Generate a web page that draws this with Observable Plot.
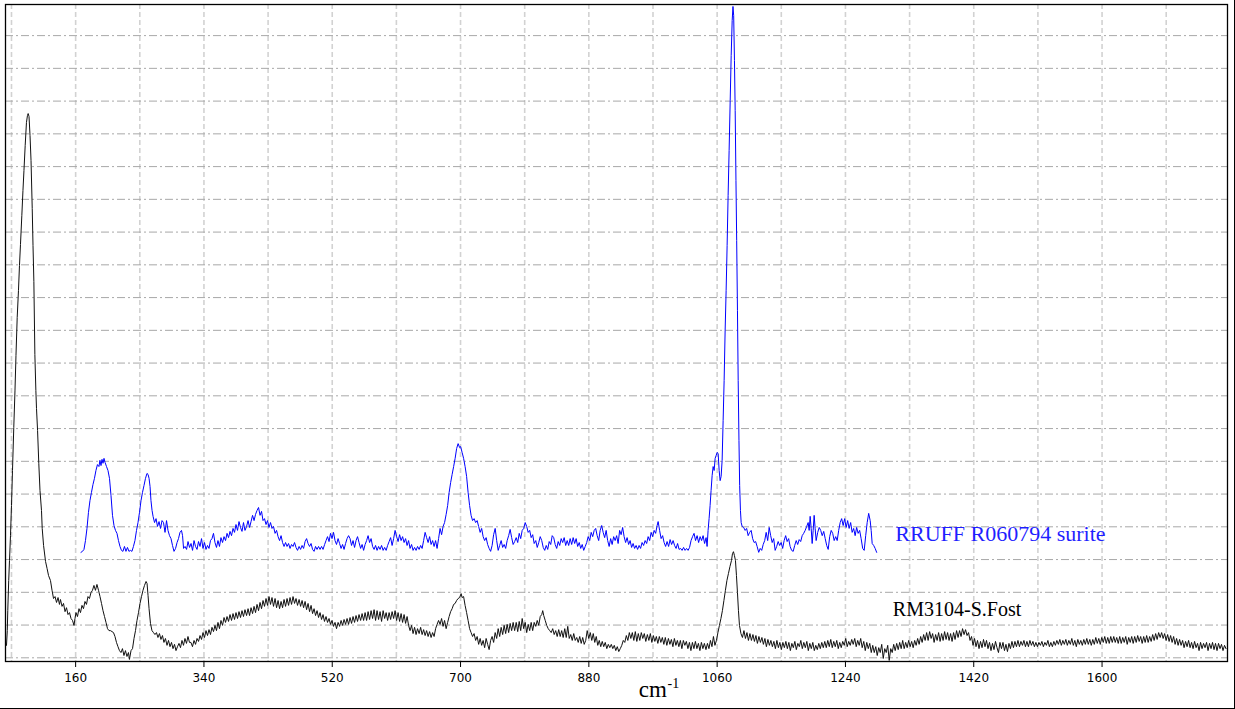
<!DOCTYPE html>
<html><head><meta charset="utf-8">
<script src="https://cdn.jsdelivr.net/npm/d3@7"></script>
<script src="https://cdn.jsdelivr.net/npm/@observablehq/plot@0.6"></script>
<style>
html,body{margin:0;padding:0;background:#fff;}
#wrap{position:relative;width:1235px;height:709px;overflow:hidden;background:#fff;}
#chart svg{display:block;}
#edge{position:absolute;left:0;top:0;width:1234px;height:708px;border-right:1px solid #000;border-bottom:1px solid #000;pointer-events:none;}
</style></head><body>
<div id="wrap"><div id="chart"></div><div id="edge"></div></div>
<script>
const xTickLabels = [160, 340, 520, 700, 880, 1060, 1240, 1420, 1600];
const xGridLines = [70, 160, 250, 340, 430, 520, 610, 700, 790, 880, 970, 1060, 1150, 1240, 1330, 1420, 1510, 1600, 1690];
const yGridLines = [0, 1, 2, 3, 4, 5, 6, 7, 8, 9, 10, 11, 12, 13, 14, 15, 16, 17, 18, 19];
const seriesNames = ["RRUFF R060794 surite", "RM3104-S.Fost"];
const axisTitle = ["cm", "-1"];

// RM3104-S.Fost (black) : [wavenumber cm-1, intensity]
const blackSpectrum = [
[63.0,0.38],[64.1,0.83],[64.8,1.44],[66.1,2.36],[67.2,2.97],[68.6,3.73],[70.0,4.65],[71.4,5.72],[73.2,7.03],[74.9,8.15],[76.3,9.23],[78.0,10.39],[79.8,11.22],[81.2,11.98],[82.6,12.62],[84.5,13.50],[86.1,14.27],[87.5,14.88],[89.2,15.64],[91.0,16.35],[92.4,16.56],[93.4,16.62],[94.6,16.53],[96.0,15.95],[97.4,15.19],[99.1,13.72],[100.2,12.59],[101.4,11.49],[102.8,9.26],[104.2,8.16],[105.1,7.61],[106.6,6.94],[108.3,5.94],[110.0,5.11],[112.1,4.50],[113.1,3.95],[115.0,3.43],[117.8,2.94],[119.9,2.73],[122.0,2.51],[124.7,2.36],[126.9,2.06],[129.0,1.81],[131.1,1.87],[133.2,1.69],[135.3,1.84],[137.3,1.63],[138.7,1.78],[140.9,1.57],[143.0,1.66],[145.1,1.41],[147.2,1.53],[149.3,1.32],[151.4,1.38],[153.5,1.20],[155.6,1.14],[157.7,0.99],[159.1,1.20],[160.5,1.38],[162.6,1.26],[164.7,1.50],[166.8,1.38],[168.9,1.60],[171.0,1.50],[173.1,1.72],[175.2,1.63],[177.3,1.87],[179.4,1.81],[181.5,1.99],[183.6,2.06],[185.7,2.21],[187.8,2.06],[189.9,2.24],[192.1,2.06],[194.2,1.87],[196.3,1.66],[198.4,1.44],[200.5,1.26],[202.6,1.08],[204.7,0.89],[206.8,0.83],[208.9,0.83],[211.0,0.80],[213.1,0.77],[215.2,0.65],[217.3,0.47],[219.4,0.34],[221.5,0.22],[223.6,0.16],[225.7,0.28],[227.8,0.07],[229.9,0.22],[232.0,0.04],[234.1,0.16],[235.5,-0.05],[237.7,0.22],[239.8,0.28],[241.9,0.59],[244.0,0.83],[246.1,1.14],[248.2,1.38],[250.3,1.66],[252.4,1.87],[254.5,2.06],[256.6,2.21],[258.8,2.33],[260.2,2.27],[261.6,1.90],[263.0,1.50],[265.0,1.05],[267.1,0.83],
[269.2,0.77],[271.3,0.71],[273.4,0.77],[275.5,0.62],[277.6,0.74],[279.7,0.56],[281.8,0.68],[283.9,0.47],[286.0,0.59],[288.2,0.38],[290.3,0.53],[292.4,0.34],[294.5,0.47],[296.6,0.28],[298.7,0.41],[300.8,0.22],[302.9,0.34],[305.0,0.44],[307.1,0.31],[309.2,0.53],[311.3,0.38],[313.4,0.59],[315.5,0.44],[317.6,0.65],[319.7,0.47],
[321.8,0.47],[323.9,0.34],[326.1,0.53],[328.2,0.41],[330.3,0.59],[332.4,0.50],[334.5,0.68],[336.6,0.56],[338.7,0.77],[340.8,0.62],[342.9,0.83],[345.0,0.68],[347.1,0.86],[349.2,0.71],[351.3,0.93],[353.4,0.80],[355.5,0.99],[357.6,0.83],[359.7,1.08],[361.8,0.89],[363.9,1.14],[366.1,0.99],[368.2,1.23],[370.3,1.08],[372.4,1.26],[374.5,1.11],[376.6,1.32],[378.7,1.14],[380.8,1.35],[382.9,1.17],[385.0,1.38],[387.1,1.20],[389.2,1.41],[391.3,1.23],[393.4,1.44],[395.5,1.26],[397.6,1.47],[399.8,1.29],[401.9,1.50],[404.0,1.29],[406.1,1.53],[408.2,1.35],[410.3,1.57],[412.4,1.38],[414.5,1.63],[416.6,1.44],[418.7,1.69],[420.8,1.50],[422.9,1.75],[425.0,1.57],[427.1,1.81],[429.2,1.60],[431.3,1.87],[433.4,1.63],[435.5,1.84],[437.6,1.57],[439.8,1.81],[441.9,1.53],[444.0,1.75],[446.1,1.50],[448.2,1.72],[450.3,1.53],[452.4,1.78],[454.5,1.57],[456.6,1.81],[458.7,1.60],[460.8,1.84],[462.9,1.63],[465.0,1.87],[467.1,1.66],[469.2,1.81],[471.3,1.60],[473.5,1.78],[475.6,1.57],[477.7,1.75],[479.8,1.53],[481.9,1.72],[484.0,1.47],[486.1,1.66],[488.2,1.41],[490.3,1.60],[492.4,1.35],[494.5,1.50],[496.6,1.29],[498.7,1.44],[500.8,1.23],[502.9,1.38],[505.0,1.17],[507.1,1.32],[509.1,1.11],[511.3,1.26],[513.4,1.08],[515.5,1.20],[517.6,1.02],[519.7,1.14],[521.8,0.96],[523.9,1.08],[526.0,0.89],[528.2,1.08],[530.3,0.96],[532.4,1.14],[534.5,0.99],[536.6,1.17],[538.7,1.02],[540.8,1.20],[542.9,1.02],[545.0,1.23],[547.1,1.05],[549.2,1.26],[551.3,1.08],[553.4,1.29],[555.5,1.11],[557.6,1.32],[559.8,1.14],[561.9,1.35],[564.0,1.14],[566.1,1.38],[568.2,1.14],[570.3,1.41],[572.4,1.17],[574.5,1.44],[576.6,1.20],[578.7,1.47],[580.8,1.14],[582.9,1.44],[585.0,1.17],[587.1,1.41],[589.2,1.11],[591.4,1.44],[593.5,1.20],[595.6,1.38],[597.7,1.14],[599.8,1.38],[601.9,1.17],[604.0,1.41],[606.1,1.20],[608.2,1.44],[610.3,1.14],[612.4,1.38],[614.5,1.11],[616.6,1.35],[618.7,1.08],[620.8,1.32],[622.9,1.05],[625.0,1.26],[627.1,0.99],[629.2,0.83],[631.3,0.99],[633.4,0.74],[635.5,0.93],[637.6,0.71],[639.7,0.89],[641.9,0.74],[644.0,0.93],[646.1,0.71],[648.2,0.86],[650.3,0.68],[652.4,0.83],[654.5,0.65],[656.6,0.80],[658.7,0.62],[660.8,0.77],[662.9,0.65],[665.0,0.89],[667.1,1.02],[669.2,1.14],[671.3,1.02],[673.4,1.20],[675.5,0.96],[677.6,1.14],[679.8,0.89],[681.9,1.08],[684.0,1.26],[686.1,1.41],[688.2,1.50],[690.3,1.63],[692.4,1.66],[694.5,1.75],[696.6,1.81],[698.7,1.84],[700.8,1.96],[702.2,1.84],[704.3,1.87],
[706.4,1.60],[708.5,1.38],[710.6,1.14],[712.7,0.89],[714.8,0.77],[716.9,0.65],[719.0,0.74],[721.2,0.53],[723.3,0.65],[725.4,0.41],[727.5,0.59],[729.6,0.38],[731.7,0.53],[733.8,0.31],[735.9,0.59],[738.0,0.41],[740.1,0.25],[742.2,0.53],[744.3,0.65],[746.4,0.47],[748.6,0.77],[750.7,0.59],[752.8,0.89],[754.9,0.65],[757.0,0.93],[759.1,0.71],[761.2,0.99],[763.3,0.74],[765.4,1.02],[767.5,0.77],[769.6,1.05],[771.7,0.83],[773.8,1.08],[775.9,0.83],[778.1,1.08],[780.2,0.80],[782.3,1.11],[784.4,0.83],[786.5,1.20],[788.6,0.89],[790.7,1.08],[792.8,0.77],[794.9,1.02],[797.0,0.83],[799.1,1.08],[801.2,0.83],[803.3,1.08],[805.5,0.96],[807.6,1.14],[809.7,0.99],[811.8,1.26],[813.9,1.32],[815.3,1.44],[816.7,1.29],[818.8,1.14],[820.9,0.99],[823.0,0.89],[825.1,0.83],[827.2,0.77],[829.3,0.89],[831.4,0.71],[833.5,0.83],[835.6,0.65],[837.7,0.86],[839.8,0.65],[841.9,0.83],[844.0,0.62],[846.2,0.89],[848.3,0.62],[850.4,0.96],[852.5,0.59],[854.6,0.71],[856.7,0.53],[858.8,0.74],[860.9,0.53],[863.0,0.62],[865.1,0.47],[867.2,0.65],[869.3,0.44],[871.4,0.62],[873.5,0.41],[875.6,0.53],[877.7,0.83],[879.9,0.59],[882.0,0.77],[884.1,0.53],[886.2,0.74],[888.3,0.47],[890.4,0.65],[892.5,0.38],[894.6,0.53],[896.7,0.34],[898.8,0.50],[900.9,0.34],[903.0,0.47],[905.2,0.28],[907.3,0.41],[909.4,0.31],[911.5,0.41],[913.6,0.28],[915.7,0.38],[917.8,0.22],[919.9,0.34],[922.0,0.19],[924.1,0.28],[926.2,0.38],[928.3,0.53],[930.4,0.47],[932.6,0.68],[934.7,0.53],[936.8,0.77],[938.9,0.59],[941.0,0.77],[943.1,0.53],[945.2,0.80],[947.3,0.50],[949.4,0.74],[951.5,0.53],[953.6,0.77],[955.7,0.59],[957.8,0.74],[959.9,0.50],[962.1,0.71],[964.2,0.53],[966.3,0.74],[968.4,0.47],[970.5,0.68],[972.6,0.50],[974.7,0.65],[976.8,0.44],[978.9,0.65],[981.0,0.47],[983.1,0.62],[985.2,0.41],[987.3,0.62],[989.4,0.38],[991.6,0.59],[993.7,0.41],[995.8,0.56],[997.9,0.34],[1000.0,0.59],[1002.1,0.38],[1004.2,0.53],[1006.3,0.34],[1008.4,0.53],[1010.5,0.28],[1012.6,0.53],[1014.7,0.38],[1016.8,0.50],[1019.0,0.28],[1021.1,0.47],[1023.2,0.22],[1025.3,0.47],[1027.4,0.28],[1029.5,0.50],[1031.6,0.28],[1033.7,0.44],[1035.8,0.22],[1037.9,0.47],[1040.0,0.28],[1042.1,0.44],[1044.3,0.25],[1046.4,0.44],[1048.5,0.28],[1050.6,0.53],[1052.7,0.34],[1054.8,0.65],[1056.9,0.38],[1059.0,0.53],[1061.1,0.77],[1063.2,0.99],[1065.3,1.20],[1067.4,1.44],[1069.5,1.75],[1071.6,2.06],[1073.7,2.36],[1075.8,2.57],[1078.0,2.79],[1080.1,2.97],[1081.5,3.18],[1082.9,3.24],[1084.3,3.12],[1085.7,2.97],[1087.1,2.51],[1088.5,1.99],[1089.9,1.44],[1091.3,0.99],[1093.4,0.74],[1095.5,0.62],
[1097.6,0.83],[1099.7,0.59],[1101.8,0.77],[1103.9,0.53],[1106.0,0.74],[1108.1,0.53],[1110.2,0.71],[1112.3,0.50],[1114.4,0.68],[1116.5,0.44],[1118.6,0.65],[1120.7,0.47],[1122.8,0.62],[1124.9,0.41],[1127.0,0.59],[1129.1,0.34],[1131.2,0.56],[1133.3,0.38],[1135.4,0.53],[1137.5,0.34],[1139.6,0.50],[1141.7,0.28],[1143.8,0.53],[1145.9,0.31],[1148.0,0.47],[1150.1,0.25],[1152.2,0.47],[1154.3,0.31],[1156.4,0.50],[1158.5,0.28],[1160.6,0.47],[1162.7,0.22],[1164.8,0.44],[1166.9,0.31],[1169.0,0.50],[1171.1,0.25],[1173.2,0.44],[1175.3,0.34],[1177.4,0.53],[1179.5,0.28],[1181.6,0.47],[1183.7,0.31],[1185.8,0.50],[1187.9,0.22],[1190.0,0.44],[1192.1,0.28],[1194.2,0.47],[1196.3,0.22],[1198.4,0.38],[1200.5,0.25],[1202.6,0.44],[1204.7,0.28],[1206.8,0.47],[1208.9,0.31],[1211.0,0.50],[1213.1,0.31],[1215.2,0.53],[1217.3,0.34],[1219.4,0.56],[1221.5,0.31],[1223.6,0.50],[1225.7,0.34],[1227.8,0.53],[1229.9,0.28],[1232.0,0.47],[1234.1,0.31],[1236.2,0.50],[1238.3,0.38],[1240.4,0.59],[1242.5,0.34],[1244.6,0.50],[1246.7,0.38],[1248.8,0.56],[1250.9,0.41],[1253.0,0.59],[1255.1,0.34],[1257.2,0.53],[1259.3,0.38],[1261.4,0.59],[1263.5,0.31],[1265.7,0.50],[1267.8,0.22],[1269.9,0.47],[1272.0,0.28],[1274.1,0.44],[1276.2,0.16],[1278.3,0.38],[1280.4,0.16],[1282.5,0.34],[1284.6,0.07],[1286.7,0.31],[1288.8,0.16],[1290.9,0.41],[1293.0,-0.02],[1295.1,0.28],[1297.2,0.16],[1299.3,0.38],[1301.4,-0.08],[1303.5,0.28],[1305.6,0.16],[1307.7,0.41],[1309.8,0.22],[1311.9,0.44],[1314.0,0.25],[1316.1,0.47],[1318.2,0.28],[1320.3,0.53],[1322.4,0.28],[1324.5,0.47],[1326.6,0.31],[1328.7,0.53],[1330.8,0.34],[1332.9,0.50],[1335.0,0.31],[1337.1,0.53],[1339.2,0.38],[1341.3,0.59],[1343.4,0.41],[1345.5,0.65],[1347.6,0.47],[1349.7,0.71],[1351.8,0.53],[1353.9,0.77],[1356.0,0.53],[1358.1,0.80],[1360.2,0.59],[1362.3,0.74],[1364.4,0.47],[1366.5,0.71],[1368.6,0.53],[1370.7,0.77],[1372.8,0.50],[1374.9,0.74],[1377.0,0.53],[1379.1,0.80],[1381.2,0.56],[1383.3,0.77],[1385.4,0.53],[1387.5,0.74],[1389.6,0.50],[1391.7,0.77],[1393.8,0.56],[1395.9,0.83],[1398.0,0.62],[1400.1,0.83],[1402.2,0.65],[1404.3,0.89],[1406.4,0.71],[1408.5,0.86],[1410.6,0.68],[1412.7,0.77],[1414.8,0.53],[1416.9,0.65],[1419.0,0.38],[1421.1,0.59],[1423.2,0.34],[1425.3,0.53],[1427.4,0.28],[1429.5,0.50],[1431.6,0.31],[1433.7,0.56],[1435.8,0.34],[1437.9,0.53],[1440.0,0.28],[1442.1,0.47],[1444.2,0.22],[1446.3,0.44],[1448.4,0.25],[1450.5,0.50],[1452.6,0.31],[1454.7,0.16],[1456.8,0.47],[1458.9,0.28],[1461.0,0.47],[1463.1,0.22],[1465.2,0.41],[1467.3,0.19],[1469.4,0.44],[1471.5,0.28],[1473.6,0.50],[1475.7,0.31],[1477.8,0.50],[1479.9,0.34],[1482.0,0.53],[1484.1,0.34],[1486.2,0.50],[1488.3,0.38],[1490.4,0.53],[1492.5,0.34],[1494.6,0.50],[1496.7,0.34],[1498.8,0.53],[1500.9,0.38],[1503.0,0.50],[1505.1,0.34],[1507.2,0.47],[1509.3,0.34],[1511.4,0.47],[1513.5,0.38],[1515.6,0.50],[1517.7,0.34],[1519.8,0.47],[1521.9,0.38],[1524.0,0.53],[1526.1,0.34],[1528.2,0.47],[1530.3,0.34],[1532.4,0.50],[1534.5,0.38],[1536.6,0.53],[1538.7,0.41],[1540.8,0.56],[1542.9,0.38],[1545.0,0.53],[1547.1,0.41],[1549.2,0.56],[1551.3,0.38],[1553.4,0.53],[1555.5,0.41],[1557.6,0.59],[1559.7,0.38],[1561.8,0.53],[1563.9,0.34],[1566.0,0.56],[1568.1,0.41],[1570.2,0.53],[1572.3,0.38],[1574.4,0.56],[1576.5,0.41],[1578.6,0.59],[1580.7,0.41],[1582.8,0.56],[1584.9,0.38],[1587.0,0.56],[1589.1,0.41],[1591.2,0.62],[1593.3,0.44],[1595.4,0.59],[1597.5,0.41],[1599.6,0.62],[1601.7,0.47],[1603.8,0.65],[1605.9,0.44],[1608.0,0.62],[1610.1,0.44],[1612.2,0.65],[1614.3,0.47],[1616.4,0.65],[1618.5,0.47],[1620.6,0.62],[1622.7,0.44],[1624.8,0.65],[1626.9,0.44],[1629.0,0.62],[1631.1,0.47],[1633.2,0.65],[1635.3,0.41],[1637.4,0.62],[1639.5,0.47],[1641.6,0.65],[1643.7,0.44],[1645.8,0.65],[1647.9,0.47],[1650.0,0.68],[1652.1,0.50],[1654.2,0.65],[1656.3,0.44],[1658.4,0.65],[1660.5,0.47],[1662.6,0.68],[1664.7,0.47],[1666.8,0.65],[1668.9,0.50],[1671.0,0.71],[1673.1,0.53],[1675.2,0.74],[1677.3,0.56],[1679.4,0.77],[1681.5,0.62],[1683.6,0.77],[1685.7,0.59],[1687.8,0.74],[1689.9,0.53],[1692.0,0.71],[1694.1,0.50],[1696.2,0.68],[1698.3,0.47],[1700.4,0.65],[1702.5,0.41],[1704.6,0.59],[1706.7,0.38],[1708.8,0.56],[1710.9,0.38],[1713.0,0.53],[1715.1,0.31],[1717.2,0.50],[1719.3,0.34],[1721.4,0.53],[1723.5,0.31],[1725.6,0.47],[1727.7,0.28],[1729.8,0.50],[1731.9,0.31],[1734.0,0.44],[1736.1,0.22],[1738.2,0.47],[1740.3,0.28],[1742.4,0.44],[1744.5,0.31],[1746.6,0.47],[1748.7,0.22],[1750.8,0.44],[1752.9,0.28],[1755.0,0.47],[1757.1,0.25],[1759.2,0.44],[1761.3,0.22],[1763.4,0.44],[1765.5,0.28],[1767.6,0.41],[1769.7,0.22],[1771.8,0.38],[1773.9,0.28]
];

// RRUFF R060794 surite (blue) : [wavenumber cm-1, intensity]
const blueSpectrum = [
[167.5,3.22],[169.6,3.25],[171.7,3.31],[173.8,3.58],[175.9,3.95],[178.0,4.44],[180.1,4.80],[182.2,5.05],[184.3,5.29],[186.4,5.48],[188.5,5.72],[190.6,5.90],[192.7,5.84],[194.1,6.03],[195.6,5.87],[197.0,6.06],[198.4,5.94],[199.8,6.09],[201.2,5.97],[203.3,5.84],[205.4,5.72],[207.5,5.48],[209.6,4.96],[211.7,4.35],[213.8,4.04],[215.9,3.89],[218.0,3.80],[220.1,3.58],[222.2,3.40],[224.3,3.28],[226.4,3.25],[228.5,3.40],[230.6,3.25],[232.7,3.37],[234.8,3.25],[236.9,3.28],[239.0,3.25],[241.1,3.40],[243.2,3.58],[245.4,3.89],[247.5,4.13],[249.6,4.44],[251.7,4.80],[253.8,5.05],[255.9,5.26],[258.0,5.48],[260.1,5.63],[261.6,5.60],[263.0,5.48],[264.4,5.23],[265.7,4.80],[267.2,4.50],[268.6,4.32],[270.7,4.13],[272.8,4.25],[274.9,4.01],[277.0,4.16],[279.1,3.95],[281.2,4.19],[283.3,4.13],[285.4,3.83],[287.5,4.19],[289.6,3.89],[291.7,3.73],[293.8,3.64],[295.9,3.43],[298.0,3.25],[300.2,3.34],[302.3,3.52],[304.3,3.64],[306.4,3.83],[308.5,3.89],[310.0,3.73],[311.4,3.34],[313.5,3.40],[315.6,3.31],[317.7,3.55],[319.8,3.37],[321.9,3.49],[324.0,3.28],[326.1,3.58],[328.2,3.40],[330.3,3.31],[332.4,3.55],[334.5,3.40],[336.6,3.64],[338.7,3.34],[340.8,3.52],[342.9,3.31],[345.0,3.43],[347.1,3.34],[349.2,3.58],[351.3,3.64],[353.4,3.80],[355.5,3.52],[357.6,3.37],[359.7,3.58],[361.8,3.40],[363.9,3.67],[366.1,3.52],[368.2,3.70],[370.3,3.58],[372.4,3.80],[374.5,3.67],[376.6,3.86],[378.7,3.73],[380.8,3.95],[382.9,3.83],[385.0,4.07],[387.1,3.89],[389.2,4.16],[391.3,3.98],[393.4,3.86],[395.5,4.13],[397.6,3.89],[399.8,4.01],[401.9,4.19],[404.0,3.98],[406.1,4.16],[408.2,4.35],[410.3,4.19],[412.4,4.38],[414.5,4.50],[416.6,4.59],[418.7,4.35],[420.8,4.47],[422.9,4.19],[425.0,4.25],[427.1,4.07],[429.2,4.19],[431.3,3.98],[433.4,4.13],[435.5,3.95],[437.6,4.01],[439.8,3.80],[441.9,3.89],[444.0,3.70],[446.1,3.58],[448.2,3.73],[450.3,3.52],[452.4,3.40],[454.5,3.52],[456.6,3.40],[458.7,3.49],[460.8,3.34],[462.9,3.46],[465.0,3.40],[467.1,3.52],[469.2,3.37],[471.3,3.28],[473.5,3.40],[475.6,3.31],[477.7,3.43],[479.8,3.34],[481.9,3.55],[484.0,3.64],[486.1,3.49],[488.2,3.40],[490.3,3.49],[492.4,3.31],[494.5,3.25],[496.6,3.40],[498.7,3.31],[500.8,3.40],[502.9,3.31],[505.0,3.40],[507.1,3.31],[509.3,3.46],[511.3,3.58],[513.4,3.70],[515.5,3.55],[517.6,3.80],[519.7,3.64],[521.8,3.83],[523.9,3.58],[526.0,3.46],[528.2,3.64],[530.3,3.49],[532.4,3.34],[534.5,3.46],[536.6,3.31],[538.7,3.49],[540.8,3.64],[542.9,3.73],[545.0,3.64],[547.1,3.43],[549.2,3.58],[551.3,3.37],[553.4,3.58],[555.5,3.70],[557.6,3.52],[559.8,3.34],[561.9,3.46],[564.0,3.28],[566.1,3.46],[568.2,3.58],[570.3,3.73],[572.4,3.52],[574.5,3.64],[576.6,3.40],[578.7,3.31],[580.8,3.43],[582.9,3.28],[585.0,3.40],[587.1,3.31],[589.2,3.43],[591.4,3.28],[593.5,3.37],[595.6,3.28],[597.7,3.43],[599.8,3.55],[601.9,3.67],[604.0,3.43],[606.1,3.64],[608.2,3.89],[610.3,3.70],[612.4,3.55],[614.5,3.76],[616.6,3.58],[618.7,3.70],[620.8,3.52],[622.9,3.64],[625.0,3.43],[627.1,3.58],[629.2,3.34],[631.3,3.46],[633.4,3.28],[635.5,3.37],[637.6,3.28],[639.7,3.40],[641.9,3.31],[644.0,3.43],[646.1,3.34],[648.2,3.58],[650.3,3.83],[652.4,3.67],[654.5,3.52],[656.6,3.70],[658.7,3.46],[660.8,3.58],[662.9,3.40],[665.0,3.58],[667.1,3.34],[669.2,3.64],[671.3,3.95],[673.4,3.76],[675.5,4.01],[677.6,4.13],[679.8,4.38],[681.9,4.65],[684.0,5.05],[686.1,5.35],[688.2,5.60],[690.3,5.84],[692.4,6.09],[694.5,6.39],[696.6,6.54],[698.7,6.42],[700.1,6.45],[702.2,6.27],[704.3,6.09],[706.4,5.84],[708.5,5.54],[710.6,5.05],[712.7,4.65],[714.8,4.35],[716.9,4.19],[719.0,4.25],[721.2,4.13],[723.3,4.19],[725.4,4.01],[727.5,3.83],[729.6,3.95],[731.7,3.70],[733.8,3.58],[735.9,3.67],[738.0,3.46],[740.1,3.34],[742.2,3.25],[744.3,3.43],[746.4,3.76],[748.6,3.95],[750.7,3.58],[752.8,3.28],[754.9,3.43],[757.0,3.58],[759.1,3.37],[761.2,3.46],[763.3,3.34],[765.4,3.58],[767.5,3.73],[769.6,3.92],[771.7,3.67],[773.8,3.46],[775.9,3.55],[778.1,3.67],[780.2,3.52],[782.3,3.80],[784.4,3.64],[786.5,3.89],[788.6,3.95],[790.7,4.13],[792.8,4.01],[794.9,3.83],[797.0,3.89],[799.1,3.67],[801.2,3.76],[803.3,3.49],[805.5,3.58],[807.6,3.37],[809.7,3.52],[811.8,3.70],[813.9,3.58],[816.0,3.37],[818.1,3.28],[820.2,3.43],[822.3,3.31],[824.4,3.55],[826.5,3.46],[828.6,3.73],[830.7,3.67],[832.8,3.46],[834.9,3.34],[837.0,3.55],[839.1,3.43],[841.2,3.64],[843.3,3.52],[845.4,3.67],[847.5,3.43],[849.6,3.58],[851.7,3.43],[853.8,3.64],[855.9,3.46],[858.0,3.67],[860.1,3.49],[862.2,3.64],[864.3,3.40],[866.5,3.52],[868.6,3.34],[870.7,3.46],[872.8,3.28],[874.9,3.40],[877.0,3.52],[879.1,3.70],[881.2,3.58],[883.3,3.83],[885.4,3.70],[887.5,3.89],[889.6,3.95],[891.7,3.73],[893.8,3.58],[895.9,3.89],[898.0,4.04],[900.1,3.83],[902.2,3.67],[904.3,3.89],[906.4,3.58],[908.5,3.40],[910.6,3.64],[912.7,3.46],[914.8,3.70],[916.9,3.58],[919.0,3.73],[921.1,3.49],[923.2,3.89],[925.3,3.76],[927.4,3.98],[929.5,3.70],[931.6,3.52],[933.7,3.67],[935.8,3.46],[937.9,3.58],[940.0,3.37],[942.1,3.49],[944.2,3.34],[946.3,3.43],[948.4,3.31],[950.5,3.43],[952.6,3.34],[954.7,3.52],[956.8,3.43],[959.0,3.58],[961.1,3.49],[963.2,3.70],[965.3,3.58],[967.4,3.83],[969.5,3.70],[971.6,3.89],[973.7,3.80],[975.8,4.04],[977.2,4.16],[979.3,3.89],[981.4,3.64],[983.5,3.73],[985.6,3.52],[987.7,3.40],[989.8,3.55],[991.9,3.40],[994.0,3.61],[996.1,3.46],[998.2,3.58],[1000.3,3.43],[1002.4,3.34],[1004.5,3.49],[1006.6,3.31],[1008.7,3.34],[1010.8,3.28],[1012.9,3.37],[1015.0,3.28],[1017.1,3.34],[1019.2,3.28],[1021.3,3.37],[1023.4,3.58],[1025.5,3.70],[1027.6,3.80],[1029.7,3.58],[1031.9,3.73],[1034.0,3.52],[1036.1,3.70],[1038.2,3.58],[1040.3,3.73],[1042.4,3.49],[1044.5,3.67],[1045.9,3.40],[1047.3,3.89],[1048.7,4.25],[1050.1,4.65],[1051.5,5.11],[1053.0,5.57],[1054.4,5.84],[1055.8,5.72],[1057.2,6.09],[1058.6,6.18],[1060.0,6.27],[1061.4,6.24],[1062.8,5.72],[1064.2,5.41],[1065.6,5.54],[1067.0,6.03],[1068.4,7.25],[1069.8,8.47],[1071.2,9.99],[1072.6,11.22],[1074.0,12.59],[1075.4,14.12],[1076.8,15.49],[1078.3,17.02],[1079.7,18.39],[1081.1,19.46],[1082.2,19.89],[1083.2,19.61],[1084.3,18.24],[1085.3,16.71],[1086.4,14.58],[1087.4,12.74],[1088.5,10.61],[1089.5,8.47],[1090.6,6.64],[1091.6,5.26],[1092.7,4.50],[1093.7,4.13],[1095.1,4.01],[1097.2,3.98],[1099.3,3.89],[1101.4,3.95],[1103.5,3.73],[1105.6,3.83],[1107.7,3.89],[1109.8,3.64],[1111.9,3.52],[1114.0,3.55],[1116.1,3.40],[1118.3,3.22],[1120.4,3.34],[1122.5,3.28],[1124.6,3.46],[1126.7,3.58],[1128.8,3.83],[1130.9,3.58],[1133.0,3.98],[1135.1,3.73],[1137.2,3.52],[1139.3,3.64],[1141.4,3.28],[1143.5,3.40],[1145.6,3.55],[1147.7,3.43],[1149.8,3.52],[1151.9,3.34],[1154.0,3.58],[1156.1,3.73],[1158.2,3.55],[1160.3,3.64],[1162.4,3.40],[1164.5,3.28],[1166.7,3.25],[1168.8,3.43],[1170.9,3.58],[1173.0,3.46],[1175.1,3.61],[1177.2,3.55],[1179.3,3.73],[1181.4,3.80],[1183.5,3.89],[1185.6,4.01],[1187.7,4.13],[1189.1,3.89],[1190.5,4.32],[1191.9,3.95],[1193.3,3.49],[1194.7,3.89],[1196.1,4.35],[1197.5,3.95],[1198.9,3.58],[1201.1,3.83],[1203.2,3.98],[1205.3,3.89],[1207.4,3.73],[1209.5,3.86],[1211.6,3.64],[1213.7,3.43],[1215.8,3.31],[1217.9,3.70],[1220.0,3.89],[1222.1,3.80],[1224.2,3.58],[1226.3,3.70],[1228.4,3.58],[1230.5,3.89],[1232.6,4.13],[1234.7,4.25],[1236.8,4.04],[1238.9,4.25],[1241.0,3.98],[1243.1,4.19],[1245.2,3.95],[1247.3,4.13],[1249.4,3.83],[1251.5,3.95],[1253.6,3.73],[1255.7,3.98],[1257.8,3.80],[1259.9,3.89],[1262.0,3.64],[1264.2,3.34],[1266.3,3.28],[1268.4,3.73],[1270.5,4.13],[1272.6,4.41],[1274.7,4.19],[1276.1,3.89],[1277.5,3.49],[1279.6,3.43],[1281.7,3.34],[1283.8,3.22]
];

const serif = "'Liberation Serif', 'Times New Roman', serif";

const chart = Plot.plot({
  width: 1235,
  height: 709,
  marginLeft: 5,
  marginTop: 4,
  marginRight: 8,
  marginBottom: 48,
  style: {fontFamily: "'DejaVu Sans', Verdana, sans-serif", fontSize: "12px", color: "#000", background: "#fff", overflow: "visible"},
  x: {domain: [61.6, 1776], axis: null},
  y: {domain: [-0.113, 19.95], axis: null},
  marks: [
    Plot.ruleX(xGridLines, {stroke: "#d2d2d2", strokeWidth: 1.6, strokeDasharray: "5,3"}),
    Plot.ruleY(yGridLines, {stroke: "#a8a8a8", strokeWidth: 1, strokeDasharray: "8,3,2,3"}),
    Plot.line(blackSpectrum, {x: d => d[0], y: d => d[1], stroke: "#111", strokeWidth: 1}),
    Plot.line(blueSpectrum, {x: d => d[0], y: d => d[1], stroke: "#0000ff", strokeWidth: 1}),
    Plot.frame({stroke: "#000", strokeWidth: 1.3}),
    Plot.axisX({ticks: xTickLabels, tickSize: 6, tickPadding: 6, tickFormat: d => `${d}`, label: null, fontSize: 12, stroke: "#000"}),
    Plot.text([seriesNames[0]], {x: 1310, y: 3.78, text: d => d, textAnchor: "start", fontFamily: serif, fontSize: 22, fill: "#1f1fff"}),
    Plot.text([seriesNames[1]], {x: 1306.5, y: 1.46, text: d => d, textAnchor: "start", fontFamily: serif, fontSize: 20, fill: "#000"}),
    Plot.text([axisTitle[0]], {x: 950, y: -1.21, text: d => d, textAnchor: "start", lineAnchor: "bottom", fontFamily: serif, fontSize: 23, fill: "#000"}),
    Plot.text([axisTitle[1]], {x: 990.4, y: -0.93, text: d => d, textAnchor: "start", lineAnchor: "bottom", fontFamily: serif, fontSize: 14, fill: "#000"})
  ]
});
document.getElementById("chart").appendChild(chart);
</script>
</body></html>
